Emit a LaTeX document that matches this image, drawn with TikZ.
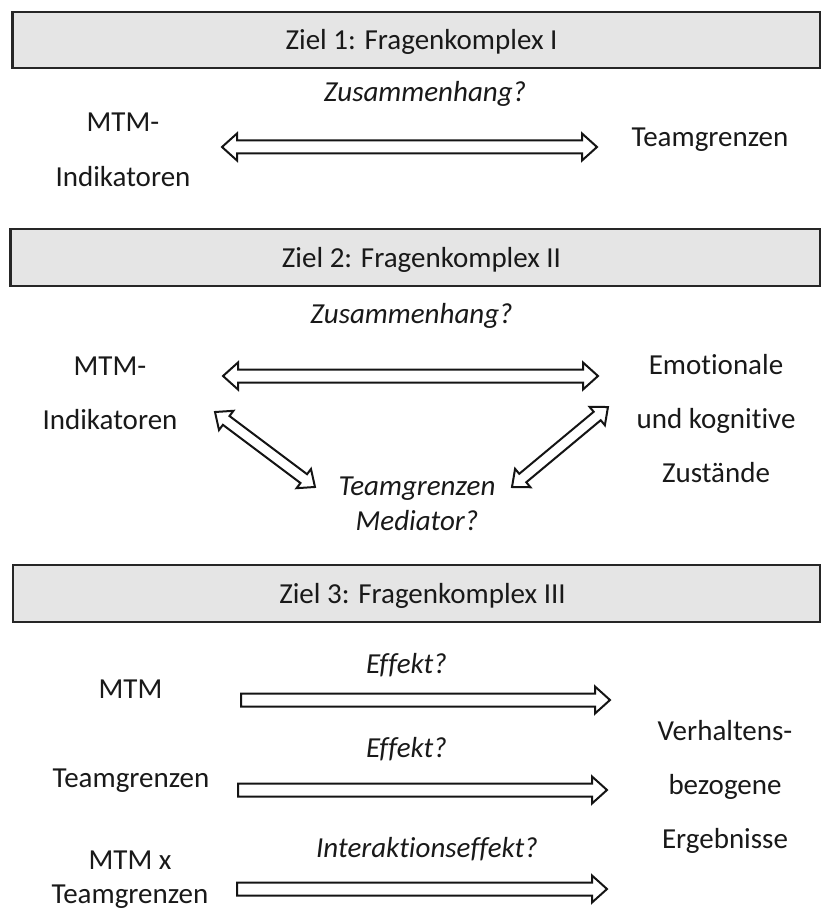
\documentclass[tikz,border=0pt]{standalone}
\usepackage{fontspec}
\setmainfont{Carlito}[Ligatures=NoCommon]
\usetikzlibrary{calc}

% block-arrow dimensions (half shaft width, half head width, head length)
\tikzset{
  ba shaft/.store in=\bashaft, ba head/.store in=\bahead, ba tip/.store in=\batip,
  ba shaft=6.5pt, ba head=13.5pt, ba tip=15pt,
  ba frame/.style={shift={(\p1)}, rotate=\n1},
  arrowline/.style={draw=black!92, line width=2pt, fill=white, line join=miter},
  % hollow block arrow, tail at start, head at target
  onehead/.style={arrowline, to path={
    let \p1=(\tikztostart), \p2=(\tikztotarget),
        \n1={atan2(\y2-\y1,\x2-\x1)}, \n2={veclen(\x2-\x1,\y2-\y1)} in
    ([ba frame]0pt,\bashaft) -- ([ba frame]{\n2*1pt-\batip},\bashaft)
    -- ([ba frame]{\n2*1pt-\batip},\bahead) -- ([ba frame]{\n2*1pt},0pt)
    -- ([ba frame]{\n2*1pt-\batip},-\bahead) -- ([ba frame]{\n2*1pt-\batip},-\bashaft)
    -- ([ba frame]0pt,-\bashaft) -- cycle}},
  % hollow block arrow with heads at both ends
  twohead/.style={arrowline, to path={
    let \p1=(\tikztostart), \p2=(\tikztotarget),
        \n1={atan2(\y2-\y1,\x2-\x1)}, \n2={veclen(\x2-\x1,\y2-\y1)} in
    ([ba frame]0pt,0pt) -- ([ba frame]\batip,\bahead) -- ([ba frame]\batip,\bashaft)
    -- ([ba frame]{\n2*1pt-\batip},\bashaft) -- ([ba frame]{\n2*1pt-\batip},\bahead)
    -- ([ba frame]{\n2*1pt},0pt)
    -- ([ba frame]{\n2*1pt-\batip},-\bahead) -- ([ba frame]{\n2*1pt-\batip},-\bashaft)
    -- ([ba frame]\batip,-\bashaft) -- ([ba frame]\batip,-\bahead) -- cycle}},
  slim/.style={ba shaft=5.5pt, ba head=12pt, ba tip=14pt},
  hdrbar/.style={draw=black!85, line width=2.4pt, fill=black!10},
  txt/.style={inner sep=0pt, text=black!90, font=\fontsize{29}{35}\selectfont},
  lbl/.style={txt, anchor=base},
  q/.style={lbl, font=\fontsize{29}{35}\selectfont\itshape},
  % multi-line label; placed at the baseline of its last line
  stack/.style={lbl, align=center, font=\fontsize{29}{#1}\selectfont},
}

\begin{document}
\begin{tikzpicture}[x=1pt, y=-1pt]
\useasboundingbox (0,0) rectangle (821,909);

% ---------- Ziel 1 ----------
\draw[hdrbar] (12.5,12) rectangle (820,68);
\node[lbl] (z1) at (421.5,50) {Ziel 1: Fragenkomplex I};

\node[stack=55] (mtmA) at (123,187) {MTM-\\Indikatoren};
\node[lbl] (tgA) at (710,147) {Teamgrenzen};
\node[q] (qA) at (425,102) {Zusammenhang?};
\coordinate (a1l) at (222,147);
\coordinate (a1r) at (597,147);
\draw[twohead] (a1l) to (a1r);

% ---------- Ziel 2 ----------
\draw[hdrbar] (10.5,229) rectangle (820,286);
\node[lbl] (z2) at (421.5,267) {Ziel 2: Fragenkomplex II};

\node[stack=54] (mtmB) at (110,429) {MTM-\\Indikatoren};
\node[stack=54] (emo) at (716,482) {Emotionale\\und kognitive\\Zustände};
\node[q] (qB) at (411.5,323) {Zusammenhang?};
\node[stack=35, font=\fontsize{29}{35}\selectfont\itshape] (med) at (417,530) {Teamgrenzen\\Mediator?};

\coordinate (b1l) at (223,376);
\coordinate (b1r) at (598,376);
\draw[twohead] (b1l) to (b1r);
\coordinate (b2a) at (215,412);
\coordinate (b2b) at (315,487);
\draw[twohead, slim] (b2a) to (b2b);
\coordinate (b3a) at (512,487);
\coordinate (b3b) at (608,407);
\draw[twohead, slim] (b3a) to (b3b);

% ---------- Ziel 3 ----------
\draw[hdrbar] (13,565) rectangle (820,622);
\node[lbl] (z3) at (422.5,603) {Ziel 3: Fragenkomplex III};

\node[lbl] (mtmC) at (130.5,698) {MTM};
\node[lbl] (tgC) at (131,787) {Teamgrenzen};
\node[stack=34] (mxt) at (130,903) {MTM x\\Teamgrenzen};
\node[stack=54] (verh) at (725,848) {Verhaltens-\\bezogene\\Ergebnisse};

\node[q] (e1) at (406.5,673) {Effekt?};
\node[q] (e2) at (406.5,757) {Effekt?};
\node[q] (e3) at (427,857) {Interaktionseffekt?};

\coordinate (c1a) at (241,700);
\coordinate (c1b) at (610,700);
\draw[onehead] (c1a) to (c1b);
\coordinate (c2a) at (238,790);
\coordinate (c2b) at (607,790);
\draw[onehead] (c2a) to (c2b);
\coordinate (c3a) at (237,889);
\coordinate (c3b) at (607,889);
\draw[onehead] (c3a) to (c3b);
\end{tikzpicture}
\end{document}
